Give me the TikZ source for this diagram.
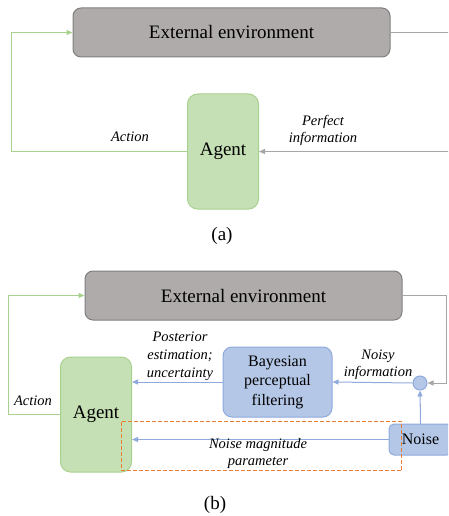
\documentclass[tikz,border=0pt]{standalone}
\usepackage{fontspec}
\setmainfont{Liberation Serif}
\usetikzlibrary{arrows.meta,positioning}

\definecolor{envfill}{HTML}{AFABAB}
\definecolor{envline}{HTML}{7F7F7F}
\definecolor{agfill}{HTML}{C5E0B4}
\definecolor{agline}{HTML}{A9D18E}
\definecolor{bfill}{HTML}{B4C7E7}
\definecolor{bline}{HTML}{8FAADC}
\definecolor{grayline}{HTML}{A6A6A6}
\definecolor{orangeline}{HTML}{ED7D31}

\begin{document}
\begin{tikzpicture}[x=1pt,y=-1pt,line width=1pt,
                    >={Triangle[length=6pt,width=5pt]},
                    env box/.style={draw=envline,fill=envfill,rounded corners=8pt,
                      minimum width=317pt,minimum height=49pt,
                      font=\fontsize{19}{22}\selectfont},
                    agent box/.style={draw=agline,fill=agfill,rounded corners=10pt,
                      minimum width=71pt,minimum height=115pt,
                      font=\fontsize{19}{22}\selectfont},
                    blue box/.style={draw=bline,fill=bfill,rounded corners=9pt,
                      align=center,font=\fontsize{16}{19.5}\selectfont},
                    lbl/.style={align=center,font=\fontsize{14.5}{17}\selectfont\itshape},
                    act/.style={draw=agline,->},
                    info/.style={draw=grayline,->},
                    blue link/.style={draw=bline,->}]
  \useasboundingbox (0,0) rectangle (448,516);
  \clip (0,0) rectangle (448,516);

  % (a)
  \node[env box] (envA) at (231.5,32.5) {External environment};
  \node[agent box] (agentA) at (223,151.5) {Agent};
  \coordinate (rA) at (470,32.5);
  \draw[act] (agentA.west) -- ++(-176,0) |- (envA.west);
  \draw[info] (envA.east) -- (rA) |- (agentA.east);
  \node[lbl] (actA) at (130,137) {Action};
  \node[lbl] (perf) at (323,130) {Perfect\\information};
  \node[font=\fontsize{19}{22}\selectfont] (capA) at (222,236) {(a)};

  % (b)
  \node[env box] (envB) at (243.5,295.5) {External environment};
  \node[agent box] (agentB) at (96,414.5) {Agent};
  \node[blue box,minimum width=109pt,minimum height=70pt] (bayes) at (277.5,382)
    {Bayesian\\perceptual\\filtering};
  \node[blue box,rounded corners=5pt,minimum width=63pt,minimum height=31pt] (noise)
    at (420.5,439.5) {Noise};
  \node[circle,draw=bline,fill=bfill,minimum size=14pt,inner sep=0pt] (sum) at (420,383) {};
  \coordinate (rB) at (446,295.5);
  \draw[act] (agentB.west) -- ++(-52,0) |- (envB.west);
  \draw[info] (envB.east) -- (rB) |- (sum.east);
  \draw[blue link] (sum.west) -- (bayes.east);
  \draw[blue link] (bayes.west) -- (bayes.west -| agentB.east);
  \draw[blue link] (noise.west) -- (noise.west -| agentB.east);
  \draw[draw=grayline!60!bline,-] (noise.north) -- ++(0,-20);
  \draw[blue link] (noise.north) -- (sum.south);
  \draw[orangeline,line width=1.4pt,dash pattern=on 4pt off 2pt]
    (121.5,421.5) rectangle (401.5,470.5);
  \node[lbl] (actB) at (33,401) {Action};
  \node[lbl,font=\fontsize{14.5}{18}\selectfont\itshape] (post) at (180,356)
    {Posterior\\estimation;\\uncertainty};
  \node[lbl] (noisy) at (378,365) {Noisy\\information};
  \node[lbl] (magn) at (258,454) {Noise magnitude\\parameter};
  \node[font=\fontsize{19}{22}\selectfont] (capB) at (215,505) {(b)};
\end{tikzpicture}
\end{document}
